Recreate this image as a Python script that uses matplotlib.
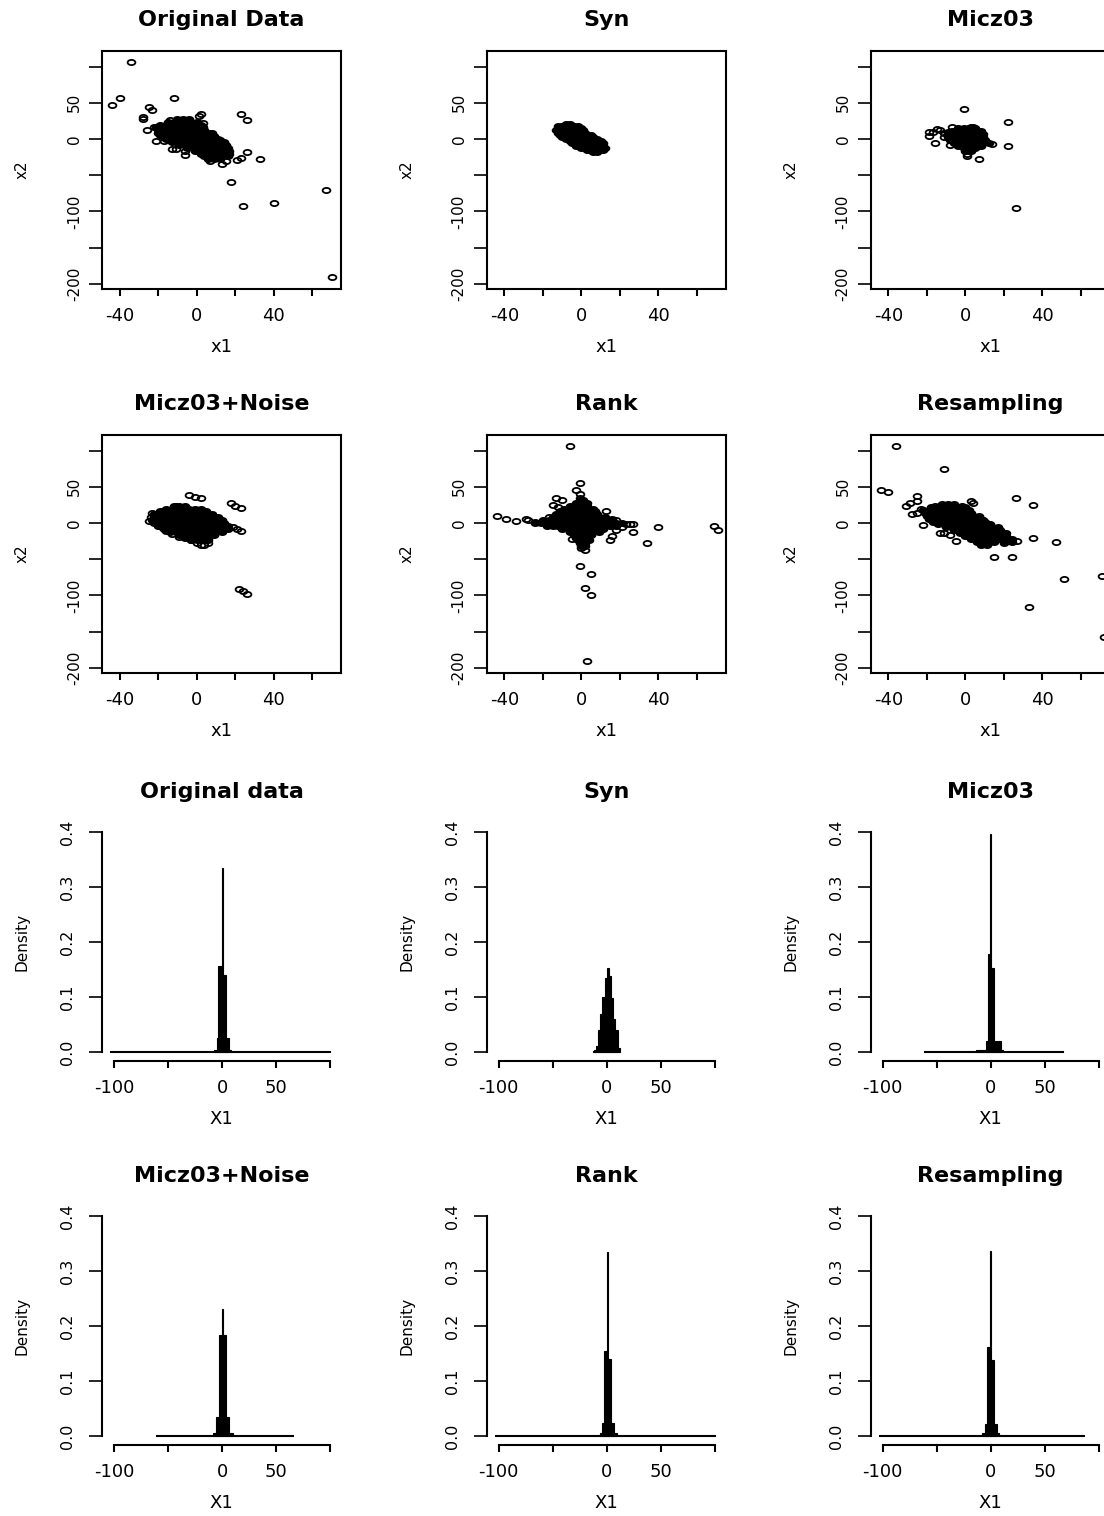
import numpy as np
import matplotlib.pyplot as plt
from matplotlib.path import Path
from matplotlib.transforms import Affine2D

plt.rcParams['font.family'] = ['DejaVu Sans']

scatter_titles = ["Original Data", "Syn", "Micz03", "Micz03+Noise", "Rank", "Resampling"]
hist_titles = ["Original data", "Syn", "Micz03", "Micz03+Noise", "Rank", "Resampling"]

# scatter data: dense core read row by row {x2: [x1, ...]}, loose points as (x1, x2)
original_core = {
    28: [-10, -7, -4],
    24: [-15, -12, -9, -6, -3, 0],
    20: [-19, -16, -13, -10, -7, -4, -1, 2],
    16: [-21, -18, -15, -12, -9, -6, -3, 0, 3],
    12: [-20, -17, -14, -11, -8, -5, -2, 1, 4],
    8: [-20, -17, -14, -11, -8, -5, -2, 1, 4, 7],
    4: [-18, -15, -12, -9, -6, -3, 0, 3, 6, 9],
    0: [-16, -13, -10, -7, -4, -1, 2, 5, 8, 11],
    -4: [-13, -10, -7, -4, -1, 2, 5, 8, 11, 14],
    -8: [-9, -6, -3, 0, 3, 6, 9, 12, 15],
    -12: [-5, -2, 1, 4, 7, 10, 13, 16],
    -16: [-1, 2, 5, 8, 11, 14, 17],
    -20: [2, 5, 8, 11, 14, 17],
    -24: [4, 7, 10, 13, 16],
    -28: [6, 9, 12],
}
original_loose = [(-34, 106), (-44, 47), (-40, 56), (-12, 56), (-25, 44), (-23, 40),
                  (-28, 31), (-28, 27), (-26, 12), (-21, -3), (2, 34), (1, 32), (23, 35),
                  (26, 26), (26, -18), (23, -26), (21, -29), (33, -27), (18, -60),
                  (24, -92), (40, -88), (67, -70), (70, -190), (13, -35), (-13, -14),
                  (-6, -16), (-6, -22), (-11, -14), (7, -30), (15, -30), (-22, 16),
                  (-17, -3), (3, 22), (-14, 26), (8, 8), (12, -2), (-19, 5)]

syn_core = {
    21: [-8, -6],
    18: [-12, -10, -8, -6, -4, -2],
    15: [-12, -10, -8, -6, -4, -2, 0],
    12: [-13, -11, -9, -7, -5, -3, -1, 1],
    9: [-12, -10, -8, -6, -4, -2, 0, 2],
    6: [-11, -9, -7, -5, -3, -1, 1, 3, 5],
    3: [-10, -8, -6, -4, -2, 0, 2, 4, 6],
    0: [-8, -6, -4, -2, 0, 2, 4, 6, 8],
    -3: [-6, -4, -2, 0, 2, 4, 6, 8, 10],
    -6: [-5, -3, -1, 1, 3, 5, 7, 9, 11],
    -9: [-3, -1, 1, 3, 5, 7, 9, 11],
    -12: [0, 2, 4, 6, 8, 10, 12],
    -15: [3, 5, 7, 9, 11],
    -18: [6, 8],
}
syn_loose = []

micz_core = {
    15: [-4, -1, 2, 5],
    11: [-7, -4, -1, 2, 5, 8],
    7: [-9, -6, -3, 0, 3, 6, 9],
    3: [-9, -6, -3, 0, 3, 6, 9],
    -1: [-8, -5, -2, 1, 4, 7, 10],
    -5: [-6, -3, 0, 3, 6, 9, 12],
    -9: [-4, -1, 2, 5, 8],
    -13: [-1, 2, 5],
    -17: [0, 3],
}
micz_loose = [(-19, 10), (-19, 4), (-16, -5), (-15, 14), (-13, 13), (-11, 3), (-8, -8),
              (-7, 17), (-9, 10), (-17, 10), (-11, 8), (3, 17), (4, 16), (-1, 41),
              (22, 24), (22, -9), (1, -21), (1, -24), (7, -27), (26, -95), (14, -7)]

noise_core = {
    24: [-12, -9, -6],
    20: [-16, -13, -10, -7, -4, -1, 2],
    16: [-19, -16, -13, -10, -7, -4, -1, 2, 5],
    12: [-22, -19, -16, -13, -10, -7, -4, -1, 2, 5, 8],
    8: [-22, -19, -16, -13, -10, -7, -4, -1, 2, 5, 8, 11],
    4: [-23, -20, -17, -14, -11, -8, -5, -2, 1, 4, 7, 10, 13],
    0: [-22, -19, -16, -13, -10, -7, -4, -1, 2, 5, 8, 11, 14],
    -4: [-20, -17, -14, -11, -8, -5, -2, 1, 4, 7, 10, 13, 16],
    -8: [-17, -14, -11, -8, -5, -2, 1, 4, 7, 10, 13, 16],
    -12: [-14, -11, -8, -5, -2, 1, 4, 7, 10, 13],
    -16: [-9, -6, -3, 0, 3, 6, 9],
    -20: [-6, -3, 0, 3, 6],
    -24: [-3, 0, 3, 6],
}
noise_loose = [(-4, 39), (-1, 36), (2, 34), (18, 27), (20, 24), (23, 21), (19, -5),
               (21, -8), (23, -11), (22, -91), (24, -94), (26, -98), (-3, -23), (0, -27),
               (2, -30), (4, -30), (-23, 14), (-22, 7), (-18, -5), (-16, -11), (-11, 24),
               (-25, 3), (-24, 9), (-13, -15), (-9, -19), (6, -28)]

rank_core = {
    32: [-1, 1],
    28: [-3, 0, 3],
    24: [-6, -3, 0, 3],
    20: [-9, -6, -3, 0, 3, 6],
    16: [-11, -8, -5, -2, 1, 4, 7],
    12: [-13, -10, -7, -4, -1, 2, 5, 8],
    8: [-15, -12, -9, -6, -3, 0, 3, 6, 9, 12],
    4: [-20, -17, -14, -11, -8, -5, -2, 1, 4, 7, 10, 13, 16],
    0: [-24, -21, -18, -15, -12, -9, -6, -3, 0, 3, 6, 9, 12, 15, 18, 21],
    -4: [-18, -15, -12, -9, -6, -3, 0, 3, 6, 9, 12, 15, 18],
    -8: [-10, -7, -4, -1, 2, 5, 8, 11],
    -12: [-6, -3, 0, 3, 6, 9],
    -16: [-4, -1, 2, 5],
    -20: [-3, 0, 3],
    -24: [-2, 1, 4],
    -28: [-1, 2],
    -32: [0, 2],
}
rank_loose = [(-6, 106), (-1, 55), (-3, 45), (-1, 40), (-1, 35), (-44, 10), (-39, 6),
              (-34, 3), (-29, 6), (-28, 4), (-24, 1), (-20, 2), (13, 16), (16, 5), (18, 4),
              (15, -23), (16, -18), (18, -9), (23, -1), (25, -2), (27, -1), (27, -13),
              (34, -27), (40, -5), (69, -4), (71, -10), (-1, -60), (5, -71), (2, -90),
              (5, -99), (3, -191), (-13, 35), (-10, 32), (-15, 25), (-5, -22), (2, -37),
              (0, -34), (-12, 22), (-17, 9), (21, -6)]

resamp_core = {
    26: [-12, -9, -6],
    22: [-18, -15, -12, -9, -6, -3, 0],
    18: [-22, -19, -16, -13, -10, -7, -4, -1, 2],
    14: [-21, -18, -15, -12, -9, -6, -3, 0, 3],
    10: [-20, -17, -14, -11, -8, -5, -2, 1, 4, 7],
    6: [-19, -16, -13, -10, -7, -4, -1, 2, 5, 8],
    2: [-17, -14, -11, -8, -5, -2, 1, 4, 7, 10],
    -2: [-14, -11, -8, -5, -2, 1, 4, 7, 10, 13],
    -6: [-10, -7, -4, -1, 2, 5, 8, 11, 14, 17],
    -10: [-6, -3, 0, 3, 6, 9, 12, 15, 18],
    -14: [-3, 0, 3, 6, 9, 12, 15, 18, 21],
    -18: [0, 3, 6, 9, 12, 15, 18, 21],
    -22: [3, 6, 9, 12, 15, 18, 21, 24],
    -26: [6, 9, 12, 15, 20, 24],
    -30: [8, 11],
}
resamp_loose = [(-36, 106), (-11, 74), (-44, 45), (-40, 43), (-25, 37), (-25, 31),
                (-31, 23), (-29, 27), (-28, 12), (-22, -3), (26, 34), (35, 25), (35, -21),
                (47, -26), (51, -77), (71, -73), (33, -116), (72, -158), (15, -47),
                (24, -47), (-13, -14), (-11, -14), (-8, -16), (-5, -25), (3, 30), (4, 28),
                (20, -27), (27, -25), (-25, 14), (-23, 19), (-16, 24), (-2, 24), (9, 4)]

scatter_sets = [(original_core, original_loose), (syn_core, syn_loose),
                (micz_core, micz_loose), (noise_core, noise_loose),
                (rank_core, rank_loose), (resamp_core, resamp_loose)]

# histograms of X1 (density): bar edges, bar heights, range of the empty bins
orig_edges = [-7, -5, -3.4, 0, 1, 3.7, 6, 8.3]
orig_dens = [0.004, 0.025, 0.156, 0.334, 0.14, 0.025, 0.004]
orig_range = (-103, 100)
syn_edges = [-12, -10, -8, -6, -4, -2, 0, 2, 4, 6, 8, 10, 12]
syn_dens = [0.004, 0.012, 0.04, 0.07, 0.10, 0.135, 0.153, 0.138, 0.099, 0.06, 0.04, 0.008]
syn_range = (-12, 11.5)
micz_edges = [-14, -4.7, -2.5, -0.6, 0.6, 3.1, 9.3, 10.9]
micz_dens = [0.004, 0.021, 0.179, 0.396, 0.153, 0.021, 0.004]
micz_range = (-60.5, 66.8)
noise_edges = [-8.6, -5.6, -2.5, 0, 1.2, 3.7, 6.2, 9.9]
noise_dens = [0.005, 0.035, 0.183, 0.231, 0.183, 0.035, 0.005]
noise_range = (-60.5, 65.4)
rank_edges = [-6.2, -4, -2.5, 0, 1.2, 3.7, 6.8, 9.3]
rank_dens = [0.005, 0.024, 0.155, 0.334, 0.14, 0.024, 0.005]
rank_range = (-102, 100)
resamp_edges = [-7.8, -5.6, -3.1, -0.6, 0.6, 3.1, 6.2, 7.8]
resamp_dens = [0.005, 0.022, 0.161, 0.337, 0.138, 0.022, 0.005]
resamp_range = (-102.5, 86)

hist_sets = [(orig_edges, orig_dens, orig_range), (syn_edges, syn_dens, syn_range),
             (micz_edges, micz_dens, micz_range), (noise_edges, noise_dens, noise_range),
             (rank_edges, rank_dens, rank_range), (resamp_edges, resamp_dens, resamp_range)]

sc_xticks = [-40, -20, 0, 20, 40, 60]
sc_xlabels = ["-40", "", "0", "", "40", ""]
sc_yticks = [100, 50, 0, -50, -100, -150, -200]
sc_ylabels = ["", "50", "0", "", "-100", "", "-200"]
h_xticks = [-100, -50, 0, 50, 100]
h_xlabels = ["-100", "", "0", "50", ""]
h_yticks = [0.0, 0.1, 0.2, 0.3, 0.4]
h_ylabels = ["0.0", "0.1", "0.2", "0.3", "0.4"]

W, H = 1104, 1516
fig = plt.figure(figsize=(W / 100, H / 100), dpi=100)
col_left = [102, 486.7, 870.7]
row_top = [51, 435, 823, 1207]
bw, bh = 239, 238

# R's circle looks squashed in the source picture
ring = Path.unit_circle().transformed(Affine2D().scale(1.5, 1.0))


def add_box(col, row):
    l, t = col_left[col], row_top[row]
    return fig.add_axes([l / W, 1 - (t + bh) / H, bw / W, bh / H])


def labels(ax, title, xl, yl):
    ax.set_title(title, fontsize=16, fontweight='bold', y=1 + 31 / bh, va='center', pad=0)
    ax.set_xlabel(xl, fontsize=13)
    ax.xaxis.set_label_coords(0.5, -58 / bh)
    ax.xaxis.label.set_va('center')
    ax.set_ylabel(yl, fontsize=11)
    ax.yaxis.set_label_coords(-80 / bw, 0.5)
    ax.yaxis.label.set_va('center')


for i, (core, loose) in enumerate(scatter_sets):
    ax = add_box(i % 3, i // 3)
    cx = [x for y, row in core.items() for x in row]
    cy = [y for y, row in core.items() for x in row]
    # hundreds of overlapping rings in the core print as solid black
    ax.plot(cx, cy, linestyle='none', marker=ring, markersize=5.6,
            mfc='black', mec='black', mew=1.3)
    if loose:
        lx, ly = zip(*loose)
        ax.plot(lx, ly, linestyle='none', marker=ring, markersize=5.6,
                mfc='none', mec='black', mew=1.3)
    ax.set_xlim(-49.2, 74.9)
    ax.set_ylim(-207, 121.5)
    for s in ax.spines.values():
        s.set_linewidth(1.5)
    ax.set_xticks(sc_xticks)
    ax.set_xticklabels(sc_xlabels, fontsize=13)
    ax.set_yticks(sc_yticks)
    ax.set_yticklabels(sc_ylabels, fontsize=11, rotation=90, va='center')
    ax.tick_params(axis='x', length=5, width=1.5, pad=8)
    ax.tick_params(axis='y', length=9.5, width=1.2, pad=5)
    labels(ax, scatter_titles[i], "x1", "x2")

for i, (edges, dens, rng) in enumerate(hist_sets):
    ax = add_box(i % 3, 2 + i // 3)
    e = np.array(edges)
    ax.plot(rng, [0, 0], color='black', lw=1.5)
    ax.bar(e[:-1], dens, width=np.diff(e), align='edge', color='black',
           edgecolor='black', linewidth=0.8)
    ax.set_xlim(-111, 110)
    ax.set_ylim(-0.016, 0.416)
    ax.spines['top'].set_visible(False)
    ax.spines['right'].set_visible(False)
    ax.spines['left'].set_bounds(0, 0.4)
    ax.spines['bottom'].set_bounds(-100, 100)
    ax.spines['left'].set_linewidth(1.5)
    ax.spines['bottom'].set_linewidth(1.5)
    ax.set_xticks(h_xticks)
    ax.set_xticklabels(h_xlabels, fontsize=13)
    ax.set_yticks(h_yticks)
    ax.set_yticklabels(h_ylabels, fontsize=11.5, rotation=90, va='center')
    ax.tick_params(axis='x', length=5, width=1.5, pad=8)
    ax.tick_params(axis='y', length=9.5, width=1.2, pad=10)
    labels(ax, hist_titles[i], "X1", "Density")

fig.savefig("out.png", dpi=100)
